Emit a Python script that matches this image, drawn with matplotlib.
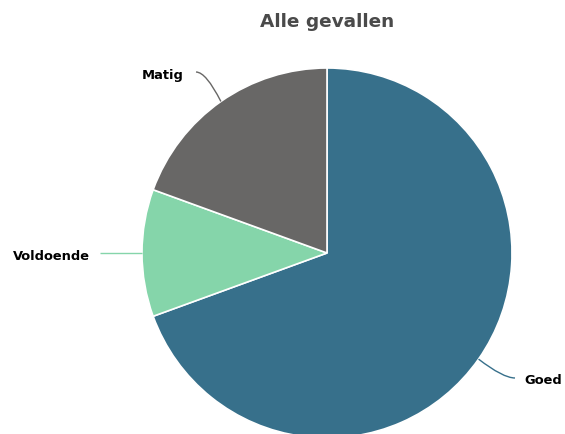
import numpy as np
import matplotlib
matplotlib.use("Agg")
import matplotlib.pyplot as plt
from matplotlib.path import Path
from matplotlib.patches import PathPatch

categories = ["Goed", "Voldoende", "Matig"]
values = [25, 4, 7]
colors = ["#37708b", "#85d5aa", "#686766"]
title = "Alle gevallen"

W, H = 565, 434
fig = plt.figure(figsize=(W / 100, H / 100), dpi=100)
ax = fig.add_axes([0, 0, 1, 1])

cx, cy, R = 327, H - 253, 185
wedges, _ = ax.pie(values, colors=colors, startangle=90, counterclock=False,
                   center=(cx, cy), radius=R,
                   wedgeprops=dict(edgecolor="white", linewidth=1.2))
ax.set_xlim(0, W)
ax.set_ylim(0, H)
ax.set_aspect("equal")
ax.axis("off")

# label layout: (text anchor x, y in px from top, ha, connector start offset)
layout = {
    "Goed": dict(tx=524, ty=381, ha="left", ls=(515, 378), ctrl=(503, 378)),
    "Voldoende": dict(tx=90, ty=256, ha="right", ls=(100, 253), ctrl=None),
    "Matig": dict(tx=184, ty=75, ha="right", ls=(196, 72), ctrl=(206, 72)),
}

for w, name, col in zip(wedges, categories, colors):
    mid = np.deg2rad((w.theta1 + w.theta2) / 2)
    ex, ey = cx + R * np.cos(mid), cy + R * np.sin(mid)
    L = layout[name]
    sx, sy = L["ls"][0], H - L["ls"][1]
    if L["ctrl"] is None:
        verts = [(sx, sy), (ex, ey)]
        codes = [Path.MOVETO, Path.LINETO]
    else:
        verts = [(sx, sy), (L["ctrl"][0], H - L["ctrl"][1]), (ex, ey)]
        codes = [Path.MOVETO, Path.CURVE3, Path.CURVE3]
    ax.add_patch(PathPatch(Path(verts, codes), fill=False, edgecolor=col, linewidth=1))
    ax.text(L["tx"], H - L["ty"], name, ha=L["ha"], va="center",
            fontsize=9.4, fontweight="bold", color="black", family="DejaVu Sans")

ax.text(cx, H - 22, title, ha="center", va="center", fontsize=13.3,
        fontweight="bold", color="#4a4a4a", family="DejaVu Sans")

fig.savefig("out.png", dpi=100)
